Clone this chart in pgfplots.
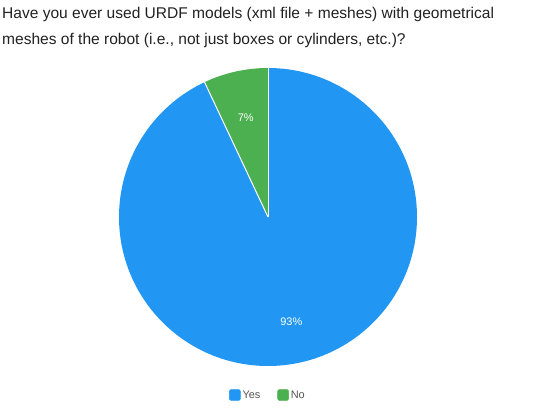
\documentclass[border=0pt]{standalone}
\usepackage{pgfplots}
\pgfplotsset{compat=1.18}
\usepackage{pgfplotstable}
\usepackage{fontspec}
\setmainfont{Liberation Sans}
\definecolor{yesblue}{HTML}{2196F3}
\definecolor{nogreen}{HTML}{4CAF50}
\definecolor{titlecol}{HTML}{212121}
\definecolor{legcol}{HTML}{555555}

\pgfplotstableread{
label value
Yes   93
No    7
}\piedata

\begin{document}
\begin{tikzpicture}
% slice angles from the table (clockwise from 12 o'clock)
\pgfplotstablegetelem{0}{value}\of\piedata \let\vyes\pgfplotsretval
\pgfplotstablegetelem{1}{value}\of\piedata \let\vno\pgfplotsretval
\pgfmathsetmacro\total{\vyes+\vno}
\pgfmathsetmacro\fYes{\vyes/\total}
\pgfmathsetmacro\fNo{\vno/\total}
\pgfmathsetmacro\aYes{90-360*\fYes}
\pgfmathsetmacro\mYes{90-180*\fYes}
\pgfmathsetmacro\mNo{\aYes-180*\fNo}
\pgfmathtruncatemacro\pYes{round(100*\fYes)}
\pgfmathtruncatemacro\pNo{round(100*\fNo)}
\begin{axis}[
    scale only axis, width=537bp, height=420bp,
    xmin=0, xmax=537, ymin=0, ymax=420,
    hide axis, clip=false,
    legend columns=2,
    legend style={at={(axis cs:268,25)}, anchor=center, draw=none, fill=none,
        font=\fontsize{11}{13}\selectfont, text=legcol,
        /tikz/every even column/.append style={column sep=15bp}},
    legend image code/.code={\fill[#1, rounded corners=2bp] (0bp,-5.5bp) rectangle (11bp,5.5bp);},
]
\path (axis cs:0,0) rectangle (axis cs:537,420);
% pie
\fill[yesblue] (axis cs:268,203) -- ++(90:149bp) arc[start angle=90, end angle=\aYes, radius=149bp] -- cycle;
\fill[nogreen] (axis cs:268,203) -- ++(\aYes:149bp) arc[start angle=\aYes, end angle=-270, radius=149bp] -- cycle;
\draw[white, line width=1bp] (axis cs:268,203) -- ++(90:149bp);
\draw[white, line width=1bp] (axis cs:268,203) -- ++(\aYes:149bp);
\path (axis cs:268,203) ++(\mYes:107bp) node[white, font=\fontsize{11}{13}\selectfont] {\pYes\%};
\path (axis cs:268,203) ++(\mNo:102bp) node[white, font=\fontsize{11}{13}\selectfont] {\pNo\%};
% title
\node[anchor=base west, text=titlecol, font=\fontsize{15.6}{19}\selectfont, inner sep=0pt]
    at (axis cs:2,401) {Have you ever used URDF models (xml file + meshes) with geometrical};
\node[anchor=base west, text=titlecol, font=\fontsize{15.6}{19}\selectfont, inner sep=0pt]
    at (axis cs:2,376) {meshes of the robot (i.e., not just boxes or cylinders, etc.)?};
% legend
\addlegendimage{yesblue}
\addlegendentry{Yes}
\addlegendimage{nogreen}
\addlegendentry{No}
\end{axis}
\end{tikzpicture}
\end{document}
